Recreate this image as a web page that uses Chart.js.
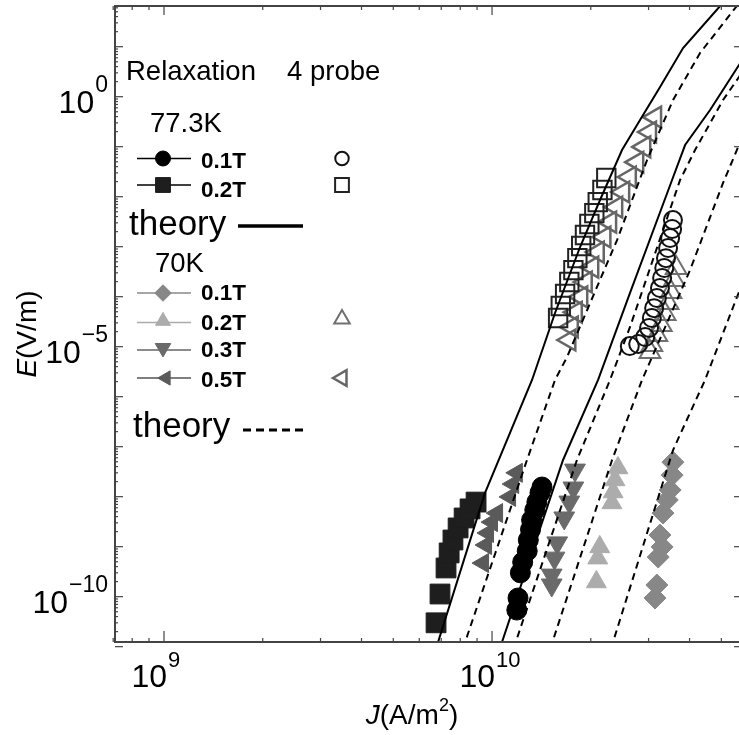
<!DOCTYPE html>
<html>
<head>
<meta charset="utf-8">
<script src="https://cdn.jsdelivr.net/npm/chart.js@4.4.1/dist/chart.umd.min.js"></script>
<style>
html, body { margin: 0; padding: 0; background: #fff; overflow: hidden; }
canvas { display: block; }
</style>
</head>
<body>
<canvas id="chart" width="742" height="735"></canvas>
<script>
// -- DATA : J in A/m^2, E in V/m -- //

// relaxation, 77.3K
const relax77_01T_J = [1.19e10, 1.20e10, 1.22e10, 1.24e10, 1.28e10, 1.29e10, 1.31e10, 1.32e10, 1.35e10, 1.37e10, 1.40e10, 1.42e10];
const relax77_01T_E = [5.4e-11, 9.4e-11, 3.0e-10, 4.9e-10, 8.2e-10, 1.36e-9, 2.2e-9, 3.4e-9, 5.4e-9, 7.8e-9, 1.19e-8, 1.56e-8];
const relax77_02T_J = [6.75e9, 6.94e9, 7.24e9, 7.40e9, 7.60e9, 7.88e9, 8.22e9, 8.57e9, 8.94e9];
const relax77_02T_E = [3.0e-11, 1.13e-10, 3.75e-10, 7.5e-10, 1.36e-9, 2.37e-9, 3.75e-9, 5.7e-9, 7.8e-9];

// relaxation, 70K
const relax70_01T_J = [3.56e10, 3.54e10, 3.49e10, 3.42e10, 3.32e10, 3.25e10, 3.30e10, 3.21e10, 3.18e10, 3.14e10];
const relax70_01T_E = [4.9e-8, 2.7e-8, 1.36e-8, 8.6e-9, 4.7e-9, 1.71e-9, 9.9e-10, 6.2e-10, 1.71e-10, 9.4e-11];
const relax70_02T_J = [2.42e10, 2.37e10, 2.34e10, 2.32e10, 2.13e10, 2.10e10, 2.08e10];
const relax70_02T_E = [3.75e-8, 2.16e-8, 1.24e-8, 7.5e-9, 9.9e-10, 5.9e-10, 1.97e-10];
const relax70_03T_J = [1.79e10, 1.77e10, 1.72e10, 1.66e10, 1.58e10, 1.55e10, 1.52e10, 1.52e10];
const relax70_03T_E = [3.4e-8, 1.49e-8, 7.8e-9, 3.75e-9, 1.19e-9, 5.9e-10, 2.7e-10, 1.71e-10];
const relax70_05T_J = [1.19e10, 1.16e10, 1.135e10, 1.036e10, 1.0e10, 9.72e9, 9.59e9, 9.39e9];
const relax70_05T_E = [3.0e-8, 1.79e-8, 9.9e-9, 4.7e-9, 3.1e-9, 1.88e-9, 1.08e-9, 4.7e-10];

// 4 probe, 77.3K
const probe77_01T_J = [3.56e10, 3.54e10, 3.49e10, 3.44e10, 3.39e10, 3.35e10, 3.30e10, 3.25e10, 3.18e10, 3.12e10, 3.07e10, 3.01e10, 2.93e10, 2.79e10, 2.63e10];
const probe77_01T_E = [3.4e-3, 2.26e-3, 1.49e-3, 9.4e-4, 5.9e-4, 3.75e-4, 2.37e-4, 1.49e-4, 9.4e-5, 5.9e-5, 3.75e-5, 2.37e-5, 1.56e-5, 1.13e-5, 1.03e-5];
const probe77_02T_J = [1.59e10, 1.62e10, 1.67e10, 1.72e10, 1.77e10, 1.82e10, 1.87e10, 1.92e10, 1.98e10, 2.05e10, 2.10e10, 2.17e10, 2.23e10];
const probe77_02T_E = [3.75e-5, 6.5e-5, 1.13e-4, 1.97e-4, 3.4e-4, 5.9e-4, 1.03e-3, 1.71e-3, 2.84e-3, 4.7e-3, 7.8e-3, 1.36e-2, 2.37e-2];

// 4 probe, 70K
const probe70_02T_J = [3.64e10, 3.59e10, 3.51e10, 3.44e10, 3.37e10, 3.28e10, 3.18e10, 3.07e10, 3.03e10];
const probe70_02T_E = [3.75e-4, 2.16e-4, 1.24e-4, 7.5e-5, 4.5e-5, 2.7e-5, 1.71e-5, 1.08e-5, 7.8e-6];
const probe70_05T_J = [3.14e10, 3.03e10, 2.91e10, 2.77e10, 2.63e10, 2.51e10, 2.39e10, 2.29e10, 2.20e10, 2.10e10, 2.02e10, 1.93e10, 1.87e10, 1.80e10, 1.75e10, 1.72e10];
const probe70_05T_E = [0.39, 0.197, 9.9e-2, 4.9e-2, 2.48e-2, 1.24e-2, 6.2e-3, 3.1e-3, 1.56e-3, 7.8e-4, 3.9e-4, 1.97e-4, 9.9e-5, 4.9e-5, 2.48e-5, 1.36e-5];

// theory curves
const theory77_02T_J = [6.58e9, 9.52e9, 1.324e10, 1.556e10, 1.855e10, 2.134e10, 2.49e10, 2.826e10, 3.252e10, 3.822e10, 4.957e10, 5.13e10];
const theory77_02T_E = [5.4e-12, 1.19e-8, 2.16e-6, 4.72e-5, 9.86e-4, 8.59e-3, 8.59e-2, 0.342, 1.563, 9.42, 65.2, 85.9];
const theory77_01T_J = [1.028e10, 1.646e10, 2.105e10, 2.634e10, 3.538e10, 3.877e10, 4.62e10, 5.66e10, 6.12e10];
const theory77_01T_E = [5.4e-12, 5.42e-8, 2.16e-6, 1.19e-4, 2.16e-2, 0.108, 0.542, 4.31, 9.42];
const theory70_05T_J = [7.93e9, 1.278e10, 1.556e10, 1.693e10, 2.405e10, 2.969e10, 3.563e10, 4.306e10, 5.51e10, 5.78e10];
const theory70_05T_E = [5.4e-12, 5.42e-8, 2.16e-6, 6.22e-6, 1.36e-3, 5.42e-2, 0.859, 7.48, 59.4, 85.9];
const theory70_03T_J = [1.132e10, 1.815e10, 2.289e10, 2.634e10, 3.743e10, 4.158e10, 5.06e10, 5.66e10, 6.12e10];
const theory70_03T_E = [5.4e-12, 5.42e-8, 2.16e-6, 2.48e-5, 2.16e-2, 8.59e-2, 0.859, 2.48, 5.42];
const theory70_02T_J = [1.466e10, 2.322e10, 2.866e10, 4.015e10, 5.06e10, 5.66e10, 6.12e10];
const theory70_02T_E = [5.4e-12, 5.42e-8, 2.16e-6, 3.42e-4, 1.88e-2, 0.108, 0.342];
const theory70_01T_J = [2.247e10, 3.563e10, 4.46e10, 5.58e10, 6.12e10];
const theory70_01T_E = [5.4e-12, 8.59e-8, 2.16e-6, 9.86e-5, 4.31e-4];

// axes
const X_MIN = 7.09e8, X_MAX = 5.74e10;
const Y_MIN = 1.24e-11, Y_MAX = 65.2;
const xMajorTicks = [1e9, 1e10];
const xTickExp = ['9', '10'];
const xMinorTicks = [7e8, 8e8, 9e8, 2e9, 3e9, 4e9, 5e9, 6e9, 7e9, 8e9, 9e9, 2e10, 3e10, 4e10, 5e10];
const yDecadeTicks = [1e-11, 1e-10, 1e-9, 1e-8, 1e-7, 1e-6, 1e-5, 1e-4, 1e-3, 1e-2, 1e-1, 1e0, 1e1];
const yLabelTicks = [1e0, 1e-5, 1e-10];
const yTickExp = ['0', '\u22125', '\u221210'];

const FONT = '"Liberation Sans", Arial, sans-serif';

// -- MARKER STYLES -- //
const ST = {
    c77_01: { style: 'circle', rot: 0, r: 10, color: '#000000' },
    c77_02: { style: 'rect', rot: 0, r: 14, color: '#1e1e1e' },
    c70_01: { style: 'rectRot', rot: 0, r: 11, color: '#878787' },
    c70_02: { style: 'triangle', rot: 0, r: 11.5, color: '#acacac' },
    c70_03: { style: 'triangle', rot: 180, r: 12, color: '#6a6a6a' },
    c70_05: { style: 'triangle', rot: -90, r: 11, color: '#5a5a5a' },
    p77_01: { style: 'circle', rot: 0, r: 9, color: '#111111', open: true, bw: 2 },
    p77_02: { style: 'rect', rot: 0, r: 13, color: '#222222', open: true, bw: 2 },
    p70_02: { style: 'triangle', rot: 0, r: 12, color: '#707070', open: true, bw: 2 },
    p70_05: { style: 'triangle', rot: -90, r: 12, color: '#666666', open: true, bw: 2.5 }
};

function pts(J, E) {
    return J.map((j, i) => ({ x: j, y: E[i] }));
}

function markerSet(J, E, st) {
    return {
        data: pts(J, E),
        showLine: false,
        pointStyle: st.style,
        pointRotation: st.rot,
        pointRadius: st.r,
        pointBackgroundColor: st.open ? 'rgba(0,0,0,0)' : st.color,
        pointBorderColor: st.color,
        pointBorderWidth: st.open ? st.bw : 1,
        order: 2
    };
}

function theorySet(J, E, dashed) {
    return {
        data: pts(J, E),
        showLine: true,
        pointRadius: 0,
        borderColor: '#000',
        borderWidth: 2,
        borderDash: dashed ? [7, 5] : [],
        tension: 0,
        fill: false,
        clip: 0,
        order: 1
    };
}

const datasets = [
    theorySet(theory77_02T_J, theory77_02T_E, false),
    theorySet(theory77_01T_J, theory77_01T_E, false),
    theorySet(theory70_05T_J, theory70_05T_E, true),
    theorySet(theory70_03T_J, theory70_03T_E, true),
    theorySet(theory70_02T_J, theory70_02T_E, true),
    theorySet(theory70_01T_J, theory70_01T_E, true),
    markerSet(relax77_02T_J, relax77_02T_E, ST.c77_02),
    markerSet(relax77_01T_J, relax77_01T_E, ST.c77_01),
    markerSet(relax70_01T_J, relax70_01T_E, ST.c70_01),
    markerSet(relax70_02T_J, relax70_02T_E, ST.c70_02),
    markerSet(relax70_03T_J, relax70_03T_E, ST.c70_03),
    markerSet(relax70_05T_J, relax70_05T_E, ST.c70_05),
    markerSet(probe77_02T_J, probe77_02T_E, ST.p77_02),
    markerSet(probe77_01T_J, probe77_01T_E, ST.p77_01),
    markerSet(probe70_05T_J, probe70_05T_E, ST.p70_05),
    markerSet(probe70_02T_J, probe70_02T_E, ST.p70_02)
];

// -- FRAME, TICKS, AXIS TEXT -- //
function seg(ctx, x1, y1, x2, y2) {
    ctx.beginPath();
    ctx.moveTo(x1, y1);
    ctx.lineTo(x2, y2);
    ctx.stroke();
}

const framePlugin = {
    id: 'frame',
    afterDraw(chart) {
        const ctx = chart.ctx;
        const a = chart.chartArea;
        const x = chart.scales.x, y = chart.scales.y;
        ctx.save();
        ctx.strokeStyle = '#444';
        ctx.lineWidth = 2;
        ctx.strokeRect(a.left, a.top, a.right - a.left, a.bottom - a.top);

        ctx.lineWidth = 1.2;
        xMinorTicks.forEach(v => {
            const px = x.getPixelForValue(v);
            seg(ctx, px, a.bottom, px, a.bottom - 4);
            seg(ctx, px, a.top, px, a.top + 4);
        });
        xMajorTicks.forEach(v => {
            const px = x.getPixelForValue(v);
            seg(ctx, px, a.bottom, px, a.bottom - 11);
            seg(ctx, px, a.top, px, a.top + 9);
        });
        yDecadeTicks.forEach(v => {
            const py = y.getPixelForValue(v);
            seg(ctx, a.left, py, a.left + 8, py);
            seg(ctx, a.right, py, a.right - 7, py);
            for (let k = 2; k <= 9; k++) {
                const pm = y.getPixelForValue(v * k);
                if (pm < a.top || pm > a.bottom) continue;
                seg(ctx, a.left, pm, a.left + 3, pm);
            }
        });

        // tick labels 10^n
        ctx.fillStyle = '#000';
        ctx.textBaseline = 'alphabetic';
        xMajorTicks.forEach((v, i) => {
            const px = x.getPixelForValue(v);
            ctx.font = '32px ' + FONT;
            ctx.textAlign = 'right';
            ctx.fillText('10', px + 3, 687);
            ctx.font = '22px ' + FONT;
            ctx.textAlign = 'left';
            ctx.fillText(xTickExp[i], px + 4, 667);
        });
        yLabelTicks.forEach((v, i) => {
            const py = y.getPixelForValue(v);
            ctx.font = '23px ' + FONT;
            ctx.textAlign = 'right';
            const ew = ctx.measureText(yTickExp[i]).width;
            ctx.fillText(yTickExp[i], 108, py - 5);
            ctx.font = '32px ' + FONT;
            ctx.fillText('10', 108 - ew - 1, py + 16);
        });

        // axis titles
        ctx.textAlign = 'left';
        ctx.font = 'italic 28px ' + FONT;
        const jw = ctx.measureText('J').width;
        ctx.font = '28px ' + FONT;
        const aw = ctx.measureText('(A/m').width;
        const pw = ctx.measureText(')').width;
        ctx.font = '18px ' + FONT;
        const sw = ctx.measureText('2').width;
        let tx = 412 - (jw + aw + sw + pw) / 2;
        const ty = 724;
        ctx.font = 'italic 28px ' + FONT;
        ctx.fillText('J', tx, ty); tx += jw;
        ctx.font = '28px ' + FONT;
        ctx.fillText('(A/m', tx, ty); tx += aw;
        ctx.font = '18px ' + FONT;
        ctx.fillText('2', tx, ty - 13); tx += sw;
        ctx.font = '28px ' + FONT;
        ctx.fillText(')', tx, ty);

        ctx.translate(36, 334);
        ctx.rotate(-Math.PI / 2);
        ctx.font = 'italic 28px ' + FONT;
        const ew2 = ctx.measureText('E').width;
        ctx.font = '28px ' + FONT;
        const vw = ctx.measureText('(V/m)').width;
        let ux = -(ew2 + vw) / 2;
        ctx.font = 'italic 28px ' + FONT;
        ctx.fillText('E', ux, 0); ux += ew2;
        ctx.font = '28px ' + FONT;
        ctx.fillText('(V/m)', ux, 0);
        ctx.restore();
    }
};

// -- LEGEND -- //
const legendRows = [
    { st: ST.c77_01, open: ST.p77_01, label: '0.1T', ly: 158.5, px: 163, py: 158.5, ty: 168, line: '#000' },
    { st: ST.c77_02, open: ST.p77_02, label: '0.2T', ly: 185, px: 163, py: 185, ty: 197, line: '#000' },
    { st: ST.c70_01, open: null, label: '0.1T', ly: 293, px: 163, py: 293, ty: 300, line: '#888' },
    { st: ST.c70_02, open: ST.p70_02, label: '0.2T', ly: 322.5, px: 163, py: 321, ty: 330, line: '#aaa' },
    { st: ST.c70_03, open: null, label: '0.3T', ly: 350, px: 163, py: 348, ty: 357, line: '#666' },
    { st: ST.c70_05, open: ST.p70_05, label: '0.5T', ly: 378, px: 166, py: 378, ty: 387, line: '#555' }
];

const legendPlugin = {
    id: 'legendBox',
    afterDraw(chart) {
        const ctx = chart.ctx;
        const drawPoint = Chart.helpers.drawPoint;
        ctx.save();
        ctx.fillStyle = '#000';
        ctx.textAlign = 'left';
        ctx.textBaseline = 'alphabetic';
        ctx.font = '27.5px ' + FONT;
        ctx.fillText('Relaxation', 126, 80);
        ctx.fillText('4 probe', 287, 80);
        ctx.fillText('77.3K', 150, 132);
        ctx.fillText('70K', 155, 272);
        ctx.font = '35px ' + FONT;
        ctx.fillText('theory', 129, 235);
        ctx.fillText('theory', 133, 437);

        ctx.strokeStyle = '#000';
        ctx.lineWidth = 3.5;
        seg(ctx, 238, 226, 303, 226);
        ctx.setLineDash([8, 5]);
        ctx.lineWidth = 3;
        seg(ctx, 243, 430, 308, 430);
        ctx.setLineDash([]);

        legendRows.forEach(row => {
            ctx.strokeStyle = row.line;
            ctx.lineWidth = 1.5;
            seg(ctx, 137, row.ly, 191, row.ly);
            const s = row.st;
            ctx.fillStyle = s.color;
            ctx.strokeStyle = s.color;
            ctx.lineWidth = 1;
            drawPoint(ctx, { pointStyle: s.style, rotation: s.rot, radius: s.r * 0.75, borderWidth: 1 }, row.px, row.py);
            if (row.open) {
                const o = row.open;
                ctx.fillStyle = 'rgba(0,0,0,0)';
                ctx.strokeStyle = o.color;
                ctx.lineWidth = o.bw;
                const oy = o.style === 'triangle' && o.rot === 0 ? row.py - 2 : row.py;
                drawPoint(ctx, { pointStyle: o.style, rotation: o.rot, radius: o.r * 0.75, borderWidth: o.bw }, 342, oy);
            }
            ctx.fillStyle = '#000';
            ctx.font = 'bold 22.5px ' + FONT;
            ctx.fillText(row.label, 201, row.ty);
        });
        ctx.restore();
    }
};

new Chart(document.getElementById('chart'), {
    type: 'scatter',
    data: { datasets: datasets },
    options: {
        responsive: false,
        animation: false,
        events: [],
        layout: { autoPadding: false, padding: { left: 115, top: 6, right: 1, bottom: 93 } },
        plugins: { legend: { display: false }, tooltip: { enabled: false } },
        scales: {
            x: { type: 'logarithmic', min: X_MIN, max: X_MAX, display: false },
            y: { type: 'logarithmic', min: Y_MIN, max: Y_MAX, display: false }
        }
    },
    plugins: [framePlugin, legendPlugin]
});
</script>
</body>
</html>
